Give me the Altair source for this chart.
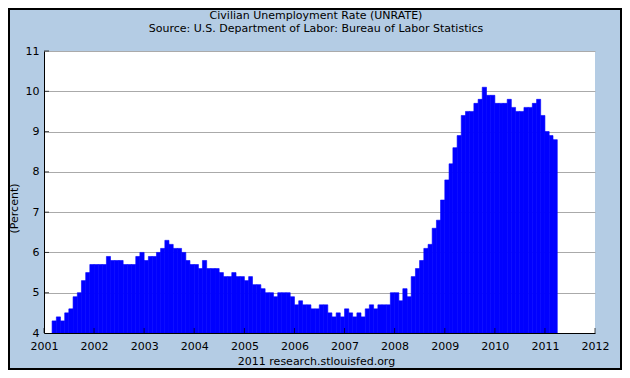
import altair as alt
import pandas as pd

# Monthly civilian unemployment rate (percent), Mar 2001 - Mar 2011
v2001 = [4.3, 4.4, 4.3, 4.5, 4.6, 4.9, 5.0, 5.3, 5.5, 5.7]  # Mar-Dec
v2002 = [5.7, 5.7, 5.7, 5.9, 5.8, 5.8, 5.8, 5.7, 5.7, 5.7, 5.9, 6.0]
v2003 = [5.8, 5.9, 5.9, 6.0, 6.1, 6.3, 6.2, 6.1, 6.1, 6.0, 5.8, 5.7]
v2004 = [5.7, 5.6, 5.8, 5.6, 5.6, 5.6, 5.5, 5.4, 5.4, 5.5, 5.4, 5.4]
v2005 = [5.3, 5.4, 5.2, 5.2, 5.1, 5.0, 5.0, 4.9, 5.0, 5.0, 5.0, 4.9]
v2006 = [4.7, 4.8, 4.7, 4.7, 4.6, 4.6, 4.7, 4.7, 4.5, 4.4, 4.5, 4.4]
v2007 = [4.6, 4.5, 4.4, 4.5, 4.4, 4.6, 4.7, 4.6, 4.7, 4.7, 4.7, 5.0]
v2008 = [5.0, 4.8, 5.1, 4.9, 5.4, 5.6, 5.8, 6.1, 6.2, 6.6, 6.8, 7.3]
v2009 = [7.8, 8.2, 8.6, 8.9, 9.4, 9.5, 9.5, 9.7, 9.8, 10.1, 9.9, 9.9]
v2010 = [9.7, 9.7, 9.7, 9.8, 9.6, 9.5, 9.5, 9.6, 9.6, 9.7, 9.8, 9.4]
v2011 = [9.0, 8.9, 8.8]  # Jan-Mar

values = v2001 + v2002 + v2003 + v2004 + v2005 + v2006 + v2007 + v2008 + v2009 + v2010 + v2011
first_month = "2001-03-01"
tick_years = list(range(2001, 2013))
y_ticks = [4, 5, 6, 7, 8, 9, 10, 11]

title_text = "Civilian Unemployment Rate (UNRATE)"
subtitle_text = "Source: U.S. Department of Labor: Bureau of Labor Statistics"
footer_text = "2011 research.stlouisfed.org"
y_title = "(Percent)"

FONT = "DejaVu Sans"
BG = "#B4CCE4"
W, H = 551, 282
PAD = {"left": 36, "top": 43, "right": 27, "bottom": 37}
CX = 272  # horizontal centre of the title / footer texts, relative to plot left

starts = pd.date_range(first_month, periods=len(values), freq="MS")
ends = starts + pd.offsets.MonthBegin(1)
df = pd.DataFrame({
    "start": starts.strftime("%Y-%m-%dT00:00:00"),
    "end": ends.strftime("%Y-%m-%dT00:00:00"),
    "rate": values,
})
years_df = pd.DataFrame({"yr": [f"{y}-01-01T00:00:00" for y in tick_years]})
yt_df = pd.DataFrame({"v": y_ticks[1:]})
titles_df = pd.DataFrame({"t": [title_text, subtitle_text], "row": [0, 1]})

x_scale = alt.Scale(domain=[alt.DateTime(year=2001, month=1, date=1),
                            alt.DateTime(year=2012, month=1, date=1)])
y_scale = alt.Scale(domain=[4, 11], nice=False, zero=False)

x_axis = alt.Axis(
    values=[alt.DateTime(year=y, month=1, date=1) for y in tick_years],
    format="%Y", ticks=False, grid=False, domainColor="black", domainWidth=1,
    labelFont=FONT, labelFontSize=11, labelColor="black", labelPadding=7,
    labelFlush=False, labelOverlap=False,
    title=footer_text, titleFont=FONT, titleFontSize=11, titleFontWeight="normal",
    titleColor="black", titlePadding=4, titleX=CX, titleAlign="center", zindex=1,
)
y_axis = alt.Axis(
    values=y_ticks, ticks=False, grid=True, gridColor="#AAAAAA", gridWidth=1,
    domainColor="black", domainWidth=1,
    labelFont=FONT, labelFontSize=11, labelColor="black", labelPadding=5,
    title=y_title, titleFont=FONT, titleFontSize=11, titleFontWeight="normal",
    titleColor="black", titleX=-30, titleY=157, titleBaseline="middle",
    titleAlign="center", titleAngle=270,
)

bars = alt.Chart(df).mark_bar(
    color="#0000FF", opacity=1, stroke="#0000FF", strokeWidth=0.6
).encode(
    x=alt.X("start:T", scale=x_scale, axis=x_axis),
    x2="end:T",
    y=alt.Y("rate:Q", scale=y_scale, axis=y_axis),
    y2=alt.datum(4),
)

xticks = alt.Chart(years_df).mark_tick(orient="vertical", size=5, thickness=1, color="black").encode(
    x=alt.X("yr:T"),
    y=alt.value(H - 2.5),
)

yticks = alt.Chart(yt_df).mark_tick(orient="horizontal", size=5, thickness=1, color="black").encode(
    y=alt.Y("v:Q"),
    x=alt.value(2.5),
)

title_line1 = alt.Chart(titles_df).transform_filter("datum.row == 0").mark_text(
    font=FONT, fontSize=11, color="black", align="center", baseline="middle"
).encode(x=alt.value(CX), y=alt.value(-35), text="t:N")

title_line2 = alt.Chart(titles_df).transform_filter("datum.row == 1").mark_text(
    font=FONT, fontSize=11, color="black", align="center", baseline="middle"
).encode(x=alt.value(CX), y=alt.value(-22), text="t:N")

frame = alt.Chart(pd.DataFrame({"a": [0]})).mark_rect(
    filled=False, stroke="black", strokeWidth=2
).encode(
    x=alt.value(-PAD["left"] + 1),
    x2=alt.value(W + PAD["right"] - 1),
    y=alt.value(-PAD["top"] + 1),
    y2=alt.value(H + PAD["bottom"] - 1),
)

chart = alt.layer(bars, xticks, yticks, title_line1, title_line2, frame).properties(
    width=W, height=H,
    autosize=alt.AutoSizeParams(type="none"),
    padding=PAD,
    background=BG,
).configure_view(strokeWidth=0, fill="white")

chart.save("out.html", embed_options={"renderer": "svg", "actions": False})
